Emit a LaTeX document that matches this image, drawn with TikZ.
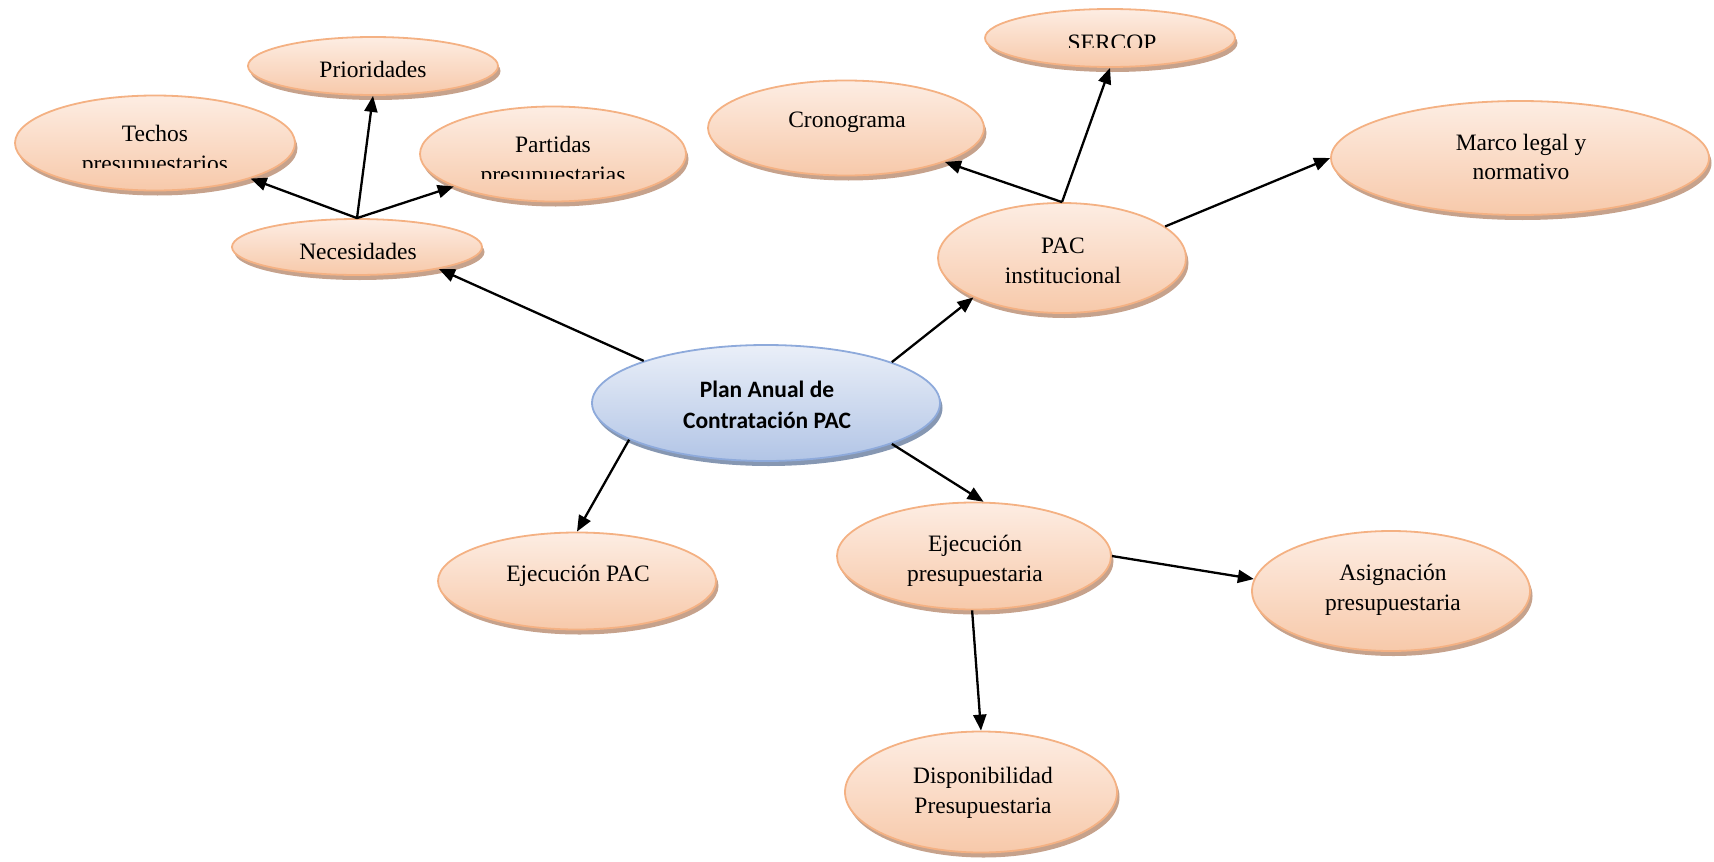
\documentclass[tikz,border=0pt]{standalone}
\usepackage{fontspec}
\setmainfont{Liberation Serif}
\newfontfamily\calibrifont{Carlito}
\usetikzlibrary{arrows.meta,shapes.geometric,shadows}

\definecolor{peachedge}{HTML}{F4B183}
\definecolor{peachtop}{HTML}{FDEDE3}
\definecolor{peachmid}{HTML}{FEF6F1}
\definecolor{peachbottom}{HTML}{F7C9AA}
\definecolor{peachshadow}{HTML}{C6A28C}
\definecolor{blueedge}{HTML}{8EAADB}
\definecolor{bluetop}{HTML}{EAEFF8}
\definecolor{bluebottom}{HTML}{B2C5E6}
\definecolor{blueshadow}{HTML}{8697B2}

\begin{document}
\begin{tikzpicture}[x=1pt,y=-1pt,
  bubble/.style={ellipse, draw=peachedge, line width=1.8pt, inner sep=0pt,
    top color=peachtop, middle color=peachmid, bottom color=peachbottom,
    general shadow={shadow xshift=2.5pt, shadow yshift=-5pt, fill=peachshadow}},
  hub/.style={ellipse, draw=blueedge, line width=1.8pt, inner sep=0pt,
    top color=bluetop, bottom color=bluebottom,
    general shadow={shadow xshift=2.5pt, shadow yshift=-5pt, fill=blueshadow}},
  lbl/.style={font=\fontsize{23.5}{29.5}\selectfont, align=center, inner sep=0pt},
  hublbl/.style={font=\calibrifont\bfseries\fontsize{23.5}{30.5}\selectfont, align=center, inner sep=0pt},
  conn/.style={line width=2.3pt, -{Triangle[length=16pt,width=13pt]}}
]
\useasboundingbox (0,0) rectangle (1714,862);

% ellipses
\node[bubble, minimum width=250pt, minimum height=58pt] (prio) at (373,66) {};
\node[bubble, minimum width=280pt, minimum height=95pt] (techos) at (155,143) {};
\node[bubble, minimum width=266pt, minimum height=95pt] (partidas) at (553,154) {};
\node[bubble, minimum width=250pt, minimum height=56pt] (nec) at (357,247) {};
\node[bubble, minimum width=276pt, minimum height=95pt] (crono) at (846,128) {};
\node[bubble, minimum width=250pt, minimum height=58pt] (sercop) at (1110,38) {};
\node[bubble, minimum width=378pt, minimum height=114pt] (marco) at (1520,158) {};
\node[bubble, minimum width=248pt, minimum height=110pt] (pacinst) at (1062,258) {};
\node[hub, minimum width=348pt, minimum height=116pt] (plan) at (766,403) {};
\node[bubble, minimum width=278pt, minimum height=97pt] (ejecpac) at (577,581) {};
\node[bubble, minimum width=274pt, minimum height=107pt] (ejecp) at (974,556) {};
\node[bubble, minimum width=278pt, minimum height=120pt] (asig) at (1391,591) {};
\node[bubble, minimum width=272pt, minimum height=121pt] (disp) at (981,792) {};

% labels
\node[lbl] (prioT) at (373,69) {Prioridades};
\begin{scope}
  \clip (0,0) rectangle (1714,167);
  \node[lbl] (techosT) at (155,151) {Techos\\presupuestarios};
\end{scope}
\begin{scope}
  \clip (0,0) rectangle (1714,178);
  \node[lbl] (partidasT) at (553,162) {Partidas\\presupuestarias};
\end{scope}
\node[lbl] (necT) at (358,251) {Necesidades};
\node[lbl] (cronoT) at (847,122) {Cronograma};
\begin{scope}
  \clip (0,0) rectangle (1714,47);
  \node[lbl] (sercopT) at (1112,43) {SERCOP};
\end{scope}
\node[lbl] (marcoT) at (1521,157) {Marco legal y\\normativo};
\node[lbl] (pacinstT) at (1063,261) {PAC\\institucional};
\node[hublbl] (planT) at (767,405) {Plan Anual de\\Contratación PAC};
\node[lbl] (ejecpacT) at (578,576) {Ejecución PAC};
\node[lbl] (ejecpT) at (975,561) {Ejecución\\presupuestaria};
\node[lbl] (asigT) at (1393,590) {Asignación\\presupuestaria};
\node[lbl] (dispT) at (983,793) {Disponibilidad\\Presupuestaria};

% connectors
\draw[conn] (plan.161) -- (nec.-15);
\draw[conn] (nec.north) -- (techos);
\draw[conn] (nec.north) -- (prio.south);
\draw[conn] (nec.north) -- (partidas);
\draw[conn] (plan.18) -- (pacinst.204);
\draw[conn] (pacinst.north) -- (crono);
\draw[conn] (pacinst.north) -- (sercop.south);
\draw[conn] (pacinst.17) -- (marco.west);
\draw[conn] (plan.195) -- (ejecpac.north);
\draw[conn] (plan.342) -- (ejecp.80);
\draw[conn] (ejecp.east) -- (asig.175);
\draw[conn] (ejecp.268) -- (disp.north);
\end{tikzpicture}
\end{document}
